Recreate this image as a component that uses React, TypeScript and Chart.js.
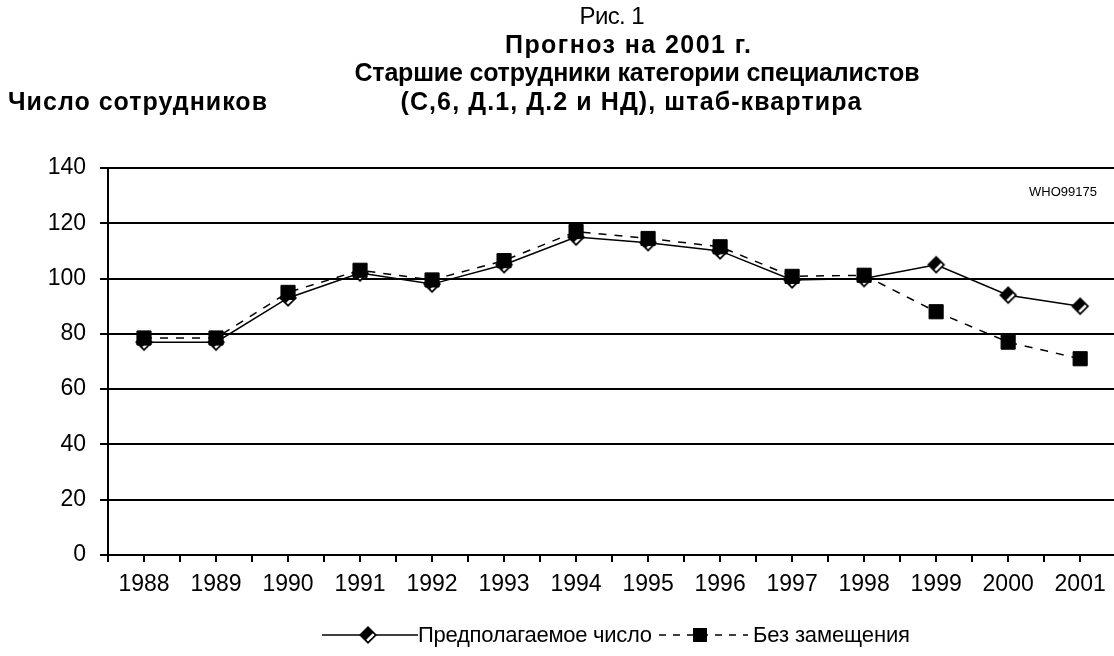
import React, { useEffect, useRef } from 'react';
import { Chart, registerables } from 'chart.js';

Chart.register(...registerables);

// ---- Data ----
const years = ['1988', '1989', '1990', '1991', '1992', '1993', '1994', '1995', '1996', '1997', '1998', '1999', '2000', '2001'];
const projected = [77, 77, 93, 102, 98, 105, 115, 113, 110, 99.5, 100, 105, 94, 90];
const noReplacement = [78.5, 78.5, 95, 103, 99.5, 106.5, 117, 114.5, 111.5, 100.8, 101.2, 88, 77, 71];
const yTickValues = [0, 20, 40, 60, 80, 100, 120, 140];

const figLabel = 'Рис. 1';
const titleLines = ['Прогноз на 2001 г.', 'Старшие сотрудники категории специалистов', '(С,6, Д.1, Д.2 и НД), штаб-квартира'];
const yAxisTitle = 'Число сотрудников';
const codeLabel = 'WHO99175';
const seriesNames = ['Предполагаемое число', 'Без замещения'];

const FONT = '"Liberation Sans", Arial, sans-serif';

function makeDiamond(): HTMLCanvasElement {
  const c = document.createElement('canvas');
  c.width = 20;
  c.height = 20;
  const g = c.getContext('2d')!;
  const cx = 10, cy = 10, r = 9;
  const diamond = (rad: number) => {
    g.beginPath();
    g.moveTo(cx, cy - rad);
    g.lineTo(cx + rad, cy);
    g.lineTo(cx, cy + rad);
    g.lineTo(cx - rad, cy);
    g.closePath();
  };
  diamond(r);
  g.fillStyle = '#000';
  g.fill();
  g.save();
  diamond(r - 2.4);
  g.clip();
  g.beginPath();
  g.moveTo(cx + 1.5 + 20, cy + 1.5 - 20);
  g.lineTo(cx + 1.5 - 20, cy + 1.5 + 20);
  g.lineTo(cx + 30, cy + 30);
  g.closePath();
  g.fillStyle = '#fff';
  g.fill();
  g.restore();
  return c;
}

// draw text spread/condensed to a given width using letter spacing
function fitText(ctx: any, text: string, x: number, y: number, width: number, align: 'left' | 'center' | 'right') {
  ctx.letterSpacing = '0px';
  const w = ctx.measureText(text).width;
  const ls = (width - w) / Math.max(text.length - 1, 1);
  ctx.letterSpacing = `${ls}px`;
  ctx.textAlign = 'left';
  const x0 = align === 'center' ? x - width / 2 : align === 'right' ? x - width : x;
  ctx.fillText(text, x0, y);
  ctx.letterSpacing = '0px';
}

export default function App() {
  const ref = useRef<HTMLCanvasElement | null>(null);

  useEffect(() => {
    if (!ref.current) return;
    const diamondImg = makeDiamond();

    const textPlugin = {
      id: 'texts',
      afterDraw(chart: any) {
        const ctx = chart.ctx as CanvasRenderingContext2D;
        ctx.save();
        ctx.fillStyle = '#000';
        ctx.textBaseline = 'middle';
        ctx.font = `24px ${FONT}`;
        fitText(ctx, figLabel, 612, 17, 65, 'center');
        ctx.font = `bold 25px ${FONT}`;
        fitText(ctx, titleLines[0], 628, 46, 246, 'center');
        fitText(ctx, titleLines[1], 637, 74, 565, 'center');
        fitText(ctx, titleLines[2], 631, 103, 461, 'center');
        fitText(ctx, yAxisTitle, 8, 103, 259, 'left');
        ctx.font = `13px ${FONT}`;
        ctx.textAlign = 'right';
        ctx.fillText(codeLabel, 1097, 192);

        // legend
        const ly = 635;
        ctx.strokeStyle = '#000';
        ctx.lineWidth = 1.5;
        ctx.beginPath();
        ctx.moveTo(322, ly);
        ctx.lineTo(418, ly);
        ctx.stroke();
        ctx.drawImage(diamondImg, 368 - 10, ly - 10);
        ctx.font = `22px ${FONT}`;
        fitText(ctx, seriesNames[0], 418, ly + 1, 234, 'left');
        ctx.setLineDash([7, 7]);
        ctx.beginPath();
        ctx.moveTo(659, ly);
        ctx.lineTo(748, ly);
        ctx.stroke();
        ctx.setLineDash([]);
        ctx.fillRect(700 - 7, ly - 7, 14, 14);
        fitText(ctx, seriesNames[1], 753, ly + 1, 157, 'left');
        ctx.restore();
      },
    };

    const chart = new Chart(ref.current, {
      type: 'line',
      data: {
        datasets: [
          {
            label: seriesNames[1],
            data: years.map((_, i) => ({ x: i, y: noReplacement[i] })),
            borderColor: '#000',
            backgroundColor: '#000',
            borderWidth: 1.5,
            borderDash: [8, 8],
            pointStyle: 'rect',
            pointRadius: 10,
            pointBorderWidth: 1,
            pointBorderColor: '#000',
            pointBackgroundColor: '#000',
            tension: 0,
          },
          {
            label: seriesNames[0],
            data: years.map((_, i) => ({ x: i, y: projected[i] })),
            borderColor: '#000',
            backgroundColor: '#000',
            borderWidth: 1.5,
            pointStyle: diamondImg,
            pointRadius: 9,
            tension: 0,
          },
        ],
      },
      options: {
        responsive: false,
        animation: false,
        devicePixelRatio: 1,
        layout: { padding: { top: 168, left: 0, right: 0, bottom: 0 } },
        plugins: {
          legend: { display: false },
          title: { display: false },
          tooltip: { enabled: false },
        },
        scales: {
          x: {
            type: 'linear',
            min: -0.5,
            max: 13.47,
            ticks: {
              stepSize: 0.5,
              autoSkip: false,
              includeBounds: false,
              maxRotation: 0,
              padding: 9,
              color: '#000',
              font: { family: FONT, size: 23 },
              callback: (v: any) => (Number.isInteger(v) ? years[v] : ''),
            },
            grid: { drawOnChartArea: false, color: '#000', lineWidth: 2, tickLength: 7 },
            border: { color: '#000', width: 2 },
            afterFit: (s: any) => {
              s.height = 101;
              s.paddingLeft = 0;
              s.paddingRight = 0;
            },
          },
          y: {
            min: 0,
            max: 140,
            afterBuildTicks: (s: any) => {
              s.ticks = yTickValues.map((v) => ({ value: v }));
            },
            ticks: {
              padding: 14,
              color: '#000',
              font: { family: FONT, size: 23 },
            },
            grid: { color: '#000', lineWidth: 2, tickLength: 8 },
            border: { color: '#000', width: 2 },
            afterFit: (s: any) => {
              s.width = 108;
              s.paddingTop = 0;
              s.paddingBottom = 0;
            },
          },
        },
      },
      plugins: [textPlugin],
    } as any);

    return () => chart.destroy();
  }, []);

  return (
    <div style={{ position: 'absolute', left: 0, top: 0, width: 1114, height: 656, overflow: 'hidden', background: '#fff' }}>
      <canvas ref={ref} width={1125} height={656} style={{ display: 'block' }} />
    </div>
  );
}
